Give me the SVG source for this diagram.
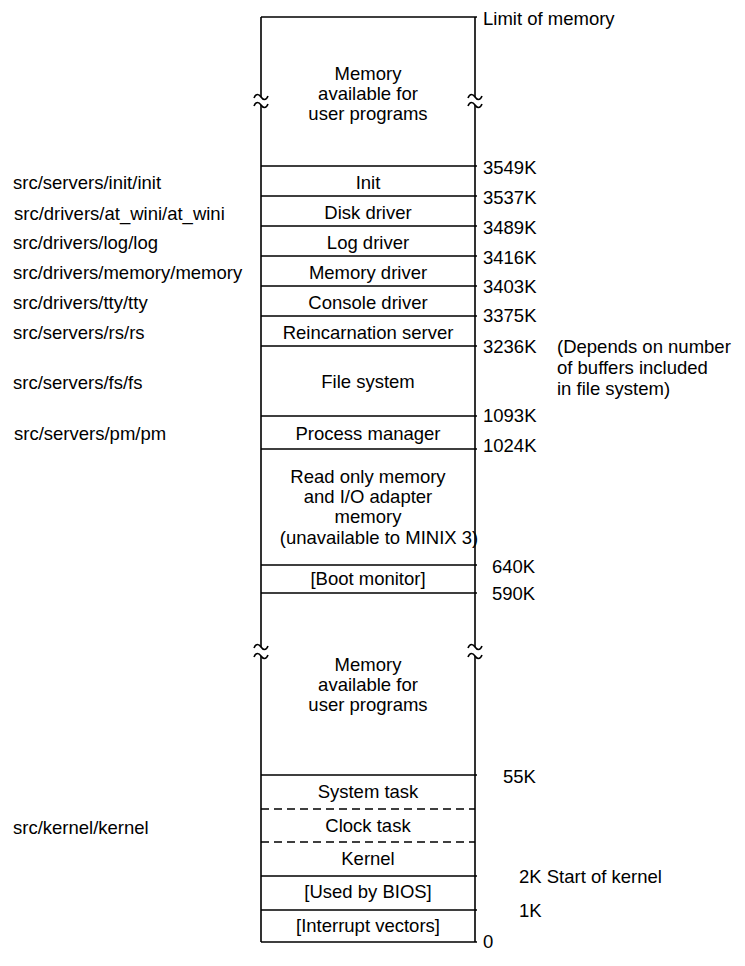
<svg xmlns="http://www.w3.org/2000/svg" width="745" height="966" viewBox="0 0 745 966">
<style>
text{font-family:"Liberation Sans",Arial,Helvetica,sans-serif;font-size:18.5px;fill:#000}
.c{text-anchor:middle}
.ln{stroke:#000;stroke-width:1.6;fill:none}
.d{stroke:#000;stroke-width:1.6;fill:none;stroke-dasharray:8,5}
</style>
<rect width="745" height="966" fill="#fff"/>
<g id="outline">
<path class="ln" d="M261,17 V97 M261,105 V647 M261,656 V942 M475,17 V97 M475,105 V647 M475,656 V942"/>
<path class="ln" d="M254,98 C256,93 259,94 261,97 C263,100 266,101 268,96 M254,106 C256,101 259,102 261,105 C263,108 266,109 268,104"/>
<path class="ln" d="M468,98 C470,93 473,94 475,97 C477,100 480,101 482,96 M468,106 C470,101 473,102 475,105 C477,108 480,109 482,104"/>
<path class="ln" d="M254,648 C256,643 259,644 261,647 C263,650 266,651 268,646 M254,657 C256,652 259,653 261,656 C263,659 266,660 268,655"/>
<path class="ln" d="M468,648 C470,643 473,644 475,647 C477,650 480,651 482,646 M468,657 C470,652 473,653 475,656 C477,659 480,660 482,655"/>
<path class="ln" d="M261,17 H477 M261,166 H477 M261,196 H477 M261,226 H477 M261,256 H477 M261,286 H477 M261,316 H477 M261,346 H477 M261,416 H477 M261,449 H477 M261,565 H477 M261,593 H477 M261,775 H477 M261,876 H477 M261,910 H477 M261,942 H477"/>
<path class="d" d="M261,809 H475 M261,842 H475"/>
</g>
<g id="user-top"><text class="c" x="368" y="80">Memory</text><text class="c" x="368" y="100">available for</text><text class="c" x="368" y="120">user programs</text></g>
<g id="init"><text class="c" x="368" y="189">Init</text></g>
<g id="disk"><text class="c" x="368" y="219">Disk driver</text></g>
<g id="log"><text class="c" x="368" y="249">Log driver</text></g>
<g id="memdrv"><text class="c" x="368" y="279">Memory driver</text></g>
<g id="console"><text class="c" x="368" y="309">Console driver</text></g>
<g id="rs"><text class="c" x="368" y="339">Reincarnation server</text></g>
<g id="fs"><text class="c" x="368" y="388">File system</text></g>
<g id="pm"><text class="c" x="368" y="440">Process manager</text></g>
<g id="rom"><text class="c" x="368" y="483">Read only memory</text><text class="c" x="368" y="503">and I/O adapter</text><text class="c" x="368" y="523">memory</text><text class="c" x="379" y="544">(unavailable to MINIX 3)</text></g>
<g id="boot"><text class="c" x="368" y="585">[Boot monitor]</text></g>
<g id="user-low"><text class="c" x="368" y="671">Memory</text><text class="c" x="368" y="691">available for</text><text class="c" x="368" y="711">user programs</text></g>
<g id="system"><text class="c" x="368" y="798">System task</text></g>
<g id="clock"><text class="c" x="368" y="832">Clock task</text></g>
<g id="kernel"><text class="c" x="368" y="865">Kernel</text></g>
<g id="bios"><text class="c" x="368" y="898">[Used by BIOS]</text></g>
<g id="ivec"><text class="c" x="368" y="932">[Interrupt vectors]</text></g>
<g id="addresses">
<text x="483" y="25">Limit of memory</text>
<text x="483" y="174">3549K</text>
<text x="483" y="204">3537K</text>
<text x="483" y="234">3489K</text>
<text x="483" y="264">3416K</text>
<text x="483" y="293">3403K</text>
<text x="483" y="322">3375K</text>
<text x="483" y="353">3236K</text>
<text x="557" y="353">(Depends on number</text>
<text x="557" y="374">of buffers included</text>
<text x="557" y="395">in file system)</text>
<text x="483" y="422">1093K</text>
<text x="483" y="452">1024K</text>
<text x="492" y="573">640K</text>
<text x="492" y="600">590K</text>
<text x="503" y="783">55K</text>
<text x="519" y="883">2K Start of kernel</text>
<text x="519" y="917">1K</text>
<text x="483" y="948">0</text>
</g>
<g id="paths">
<text x="13" y="189">src/servers/init/init</text>
<text x="14" y="220">src/drivers/at_wini/at_wini</text>
<text x="13" y="249">src/drivers/log/log</text>
<text x="13" y="279">src/drivers/memory/memory</text>
<text x="13" y="309">src/drivers/tty/tty</text>
<text x="13" y="339">src/servers/rs/rs</text>
<text x="13" y="389">src/servers/fs/fs</text>
<text x="14" y="440">src/servers/pm/pm</text>
<text x="13" y="834">src/kernel/kernel</text>
</g>
<g id="connectors"/>
</svg>
